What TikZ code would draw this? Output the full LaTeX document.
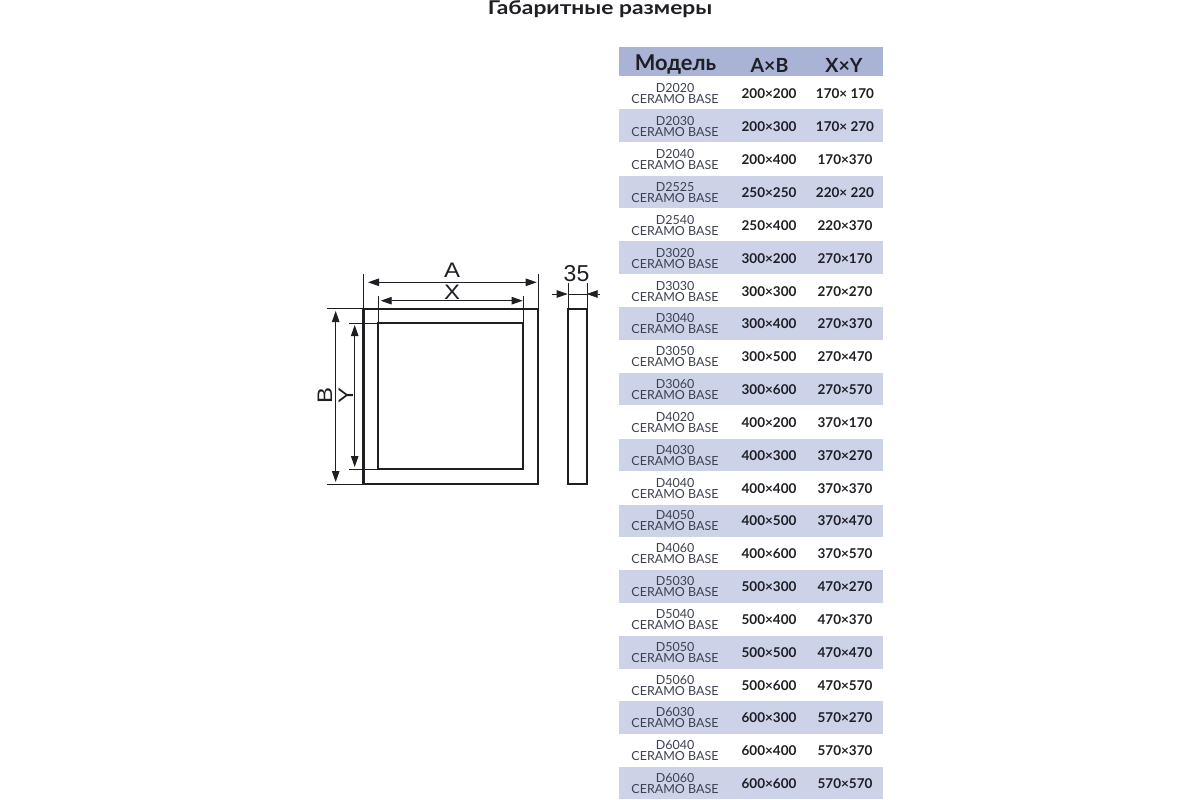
\documentclass[tikz,border=0pt]{standalone}
\usepackage{fontspec}
\setmainfont{Lato}
\newfontfamily\widefont[FakeStretch=1.2]{Lato}
\newfontfamily\dimfont[FakeStretch=1.14]{Liberation Sans}
\newfontfamily\numfont{Liberation Sans}
\usetikzlibrary{arrows.meta}
\definecolor{headcol}{HTML}{A9B3D6}
\definecolor{bandcol}{HTML}{CCD3E8}
\definecolor{inkcol}{HTML}{1E1E24}
\definecolor{namecol}{HTML}{3C4050}
\tikzset{
  model/.style={align=center,inner sep=0pt,font=\fontsize{12.5}{11}\selectfont,text=namecol},
  size/.style={inner sep=0pt,font=\fontsize{13.5}{15}\selectfont\bfseries,text=inkcol},
  head/.style={inner sep=0pt,font=\fontsize{19.5}{21}\selectfont\bfseries,text=inkcol},
  dimtxt/.style={inner sep=0pt,font=\dimfont\fontsize{21}{22}\selectfont,text=inkcol},
  frame/.style={draw=inkcol,line width=2.3pt},
  extline/.style={draw=inkcol,line width=0.8pt},
  dimline/.style={draw=inkcol,line width=0.8pt,{Triangle[length=11pt,width=7.5pt]}-{Triangle[length=11pt,width=7.5pt]}},
  onetip/.style={draw=inkcol,line width=0.8pt,-{Triangle[length=11pt,width=7.5pt]}}
}
\begin{document}
\begin{tikzpicture}[x=1pt,y=-1pt]
\useasboundingbox (0,0) rectangle (1200,800);

\node[head,anchor=base,font=\widefont\fontsize{19}{21}\selectfont\bfseries] (title) at (600,14.5){Габаритные размеры};

% table bands
\fill[headcol] (619,47) rectangle (883,76);
\fill[bandcol] (619,109) rectangle (883,142);
\fill[bandcol] (619,175.5) rectangle (883,207.5);
\fill[bandcol] (619,241) rectangle (883,273.5);
\fill[bandcol] (619,307) rectangle (883,339.5);
\fill[bandcol] (619,373) rectangle (883,405);
\fill[bandcol] (619,438.5) rectangle (883,471);
\fill[bandcol] (619,504.5) rectangle (883,537);
\fill[bandcol] (619,570) rectangle (883,602.5);
\fill[bandcol] (619,635.5) rectangle (883,668.5);
\fill[bandcol] (619,701) rectangle (883,734);
\fill[bandcol] (619,766.5) rectangle (883,799);

\node[head,font=\fontsize{21.8}{23}\selectfont\bfseries] (hmodel) at (675.5,64.5){Модель};
\node[head] (hab) at (769.5,65){A×B};
\node[head] (hxy) at (844,65){X×Y};

% rows
\node[model] (m1) at (675,94){D2020\\CERAMO BASE};
\node[size] (ab1) at (769,94){200×200}; \node[size] (xy1) at (845,94){170× 170};
\node[model] (m2) at (675,127){D2030\\CERAMO BASE};
\node[size] (ab2) at (769,127){200×300}; \node[size] (xy2) at (845,127){170× 270};
\node[model] (m3) at (675,160){D2040\\CERAMO BASE};
\node[size] (ab3) at (769,160){200×400}; \node[size] (xy3) at (845,160){170×370};
\node[model] (m4) at (675,193){D2525\\CERAMO BASE};
\node[size] (ab4) at (769,193){250×250}; \node[size] (xy4) at (845,193){220× 220};
\node[model] (m5) at (675,226){D2540\\CERAMO BASE};
\node[size] (ab5) at (769,226){250×400}; \node[size] (xy5) at (845,226){220×370};
\node[model] (m6) at (675,259){D3020\\CERAMO BASE};
\node[size] (ab6) at (769,259){300×200}; \node[size] (xy6) at (845,259){270×170};
\node[model] (m7) at (675,292){D3030\\CERAMO BASE};
\node[size] (ab7) at (769,292){300×300}; \node[size] (xy7) at (845,292){270×270};
\node[model] (m8) at (675,324){D3040\\CERAMO BASE};
\node[size] (ab8) at (769,324){300×400}; \node[size] (xy8) at (845,324){270×370};
\node[model] (m9) at (675,357){D3050\\CERAMO BASE};
\node[size] (ab9) at (769,357){300×500}; \node[size] (xy9) at (845,357){270×470};
\node[model] (m10) at (675,390){D3060\\CERAMO BASE};
\node[size] (ab10) at (769,390){300×600}; \node[size] (xy10) at (845,390){270×570};
\node[model] (m11) at (675,423){D4020\\CERAMO BASE};
\node[size] (ab11) at (769,423){400×200}; \node[size] (xy11) at (845,423){370×170};
\node[model] (m12) at (675,456){D4030\\CERAMO BASE};
\node[size] (ab12) at (769,456){400×300}; \node[size] (xy12) at (845,456){370×270};
\node[model] (m13) at (675,489){D4040\\CERAMO BASE};
\node[size] (ab13) at (769,489){400×400}; \node[size] (xy13) at (845,489){370×370};
\node[model] (m14) at (675,521){D4050\\CERAMO BASE};
\node[size] (ab14) at (769,521){400×500}; \node[size] (xy14) at (845,521){370×470};
\node[model] (m15) at (675,554){D4060\\CERAMO BASE};
\node[size] (ab15) at (769,554){400×600}; \node[size] (xy15) at (845,554){370×570};
\node[model] (m16) at (675,587){D5030\\CERAMO BASE};
\node[size] (ab16) at (769,587){500×300}; \node[size] (xy16) at (845,587){470×270};
\node[model] (m17) at (675,620){D5040\\CERAMO BASE};
\node[size] (ab17) at (769,620){500×400}; \node[size] (xy17) at (845,620){470×370};
\node[model] (m18) at (675,653){D5050\\CERAMO BASE};
\node[size] (ab18) at (769,653){500×500}; \node[size] (xy18) at (845,653){470×470};
\node[model] (m19) at (675,686){D5060\\CERAMO BASE};
\node[size] (ab19) at (769,686){500×600}; \node[size] (xy19) at (845,686){470×570};
\node[model] (m20) at (675,718){D6030\\CERAMO BASE};
\node[size] (ab20) at (769,718){600×300}; \node[size] (xy20) at (845,718){570×270};
\node[model] (m21) at (675,751){D6040\\CERAMO BASE};
\node[size] (ab21) at (769,751){600×400}; \node[size] (xy21) at (845,751){570×370};
\node[model] (m22) at (675,784){D6060\\CERAMO BASE};
\node[size] (ab22) at (769,784){600×600}; \node[size] (xy22) at (845,784){570×570};

% panel
\draw[frame] (363.5,308.7) rectangle (538,484.3);
\draw[frame] (378.3,323.3) rectangle (523.3,469.3);
\draw[frame] (568.3,308.7) rectangle (587.3,484.3);

% extension lines
\draw[extline] (363.5,274) -- (363.5,308.7);
\draw[extline] (538,274) -- (538,308.7);
\draw[extline] (378.3,296) -- (378.3,323.3);
\draw[extline] (523.3,296) -- (523.3,323.3);
\draw[extline] (326.7,308.7) -- (363.5,308.7);
\draw[extline] (326.7,484.3) -- (363.5,484.3);
\draw[extline] (349,323.3) -- (378.3,323.3);
\draw[extline] (349,469.3) -- (378.3,469.3);
\draw[extline] (568,283) -- (568,308.7);
\draw[extline] (587,283) -- (587,308.7);

% dimensions
\coordinate (aL) at (368,282.3);
\coordinate (aR) at (536.7,282.3);
\coordinate (xL) at (380.7,300.7);
\coordinate (xR) at (522.7,300.7);
\coordinate (bT) at (335.7,311);
\coordinate (bB) at (335.7,482);
\coordinate (yT) at (354.7,325);
\coordinate (yB) at (354.7,467);
\coordinate (tL) at (552.3,294);
\coordinate (tLi) at (567.7,294);
\coordinate (tR) at (600,294);
\coordinate (tRi) at (586.7,294);
\draw[dimline] (aL) -- (aR);
\draw[dimline] (xL) -- (xR);
\draw[dimline] (bT) -- (bB);
\draw[dimline] (yT) -- (yB);
\draw[onetip] (tL) -- (tLi);
\draw[onetip] (tR) -- (tRi);
\draw[extline] (tLi) -- (tRi);

\node[dimtxt] (lA) at (452,270.5){A};
\node[dimtxt] (lX) at (452,292){X};
\node[dimtxt,rotate=90] (lB) at (325,396){B};
\node[dimtxt,rotate=90] (lY) at (346,396){Y};
\node[dimtxt,font=\numfont\fontsize{23}{24}\selectfont] (l35) at (576.5,273.5){35};
\end{tikzpicture}
\end{document}
